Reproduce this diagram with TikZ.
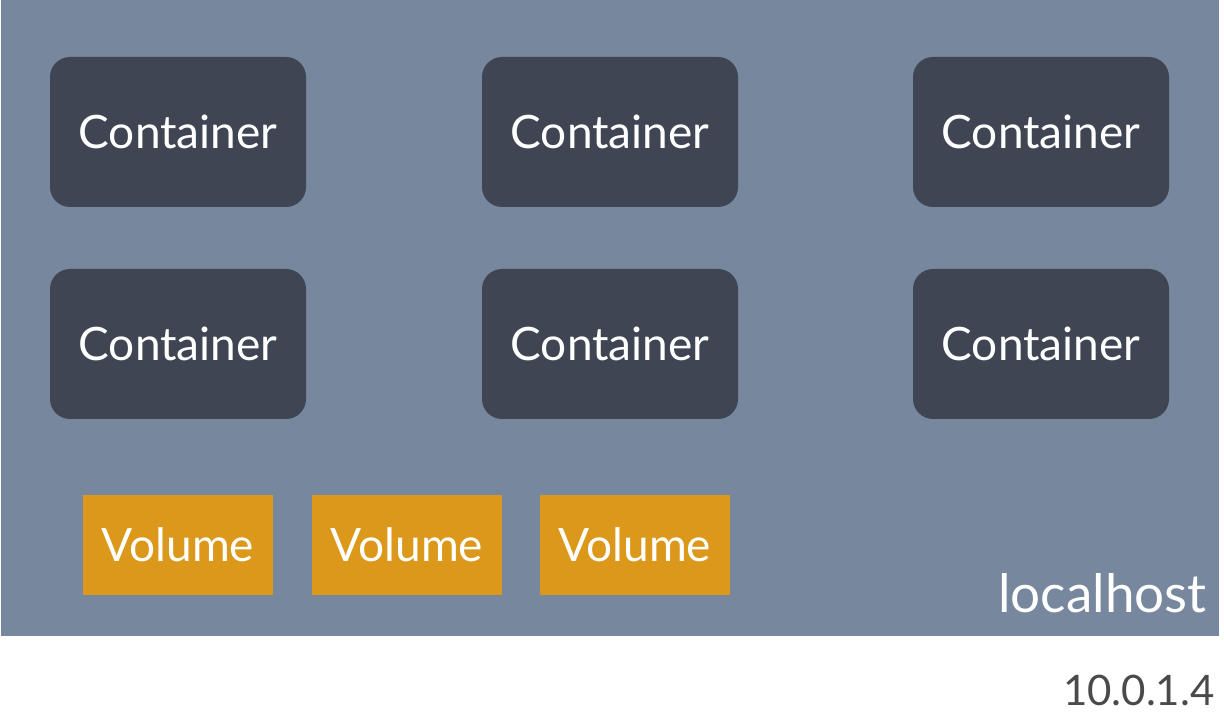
\documentclass[tikz,border=0pt]{standalone}
\usepackage{fontspec}
\setmainfont{Lato}
\usepackage{xcolor}
\usepackage{tikz}
\definecolor{hostbg}{HTML}{77879E}
\definecolor{boxdark}{HTML}{3F4553}
\definecolor{volorange}{HTML}{DB981B}
\definecolor{iptext}{HTML}{4A4A4A}
\tikzset{
    container/.style={fill=boxdark, rounded corners=10pt, minimum width=128pt, minimum height=75pt, text=white, font=\fontsize{23}{27}\selectfont},
    volume/.style={fill=volorange, minimum width=95pt, minimum height=50pt, text=white, font=\fontsize{23}{27}\selectfont}
}

\begin{document}
\begin{tikzpicture}[x=0.5pt, y=-0.5pt]
    \useasboundingbox (0,0) rectangle (1224,726);
    \fill[hostbg] (1,0) rectangle (1219,636);

    \node[container] (c11) at (178,132) {Container};
    \node[container] (c12) at (610,132) {Container};
    \node[container] (c13) at (1041,132) {Container};
    \node[container] (c21) at (178,344) {Container};
    \node[container] (c22) at (610,344) {Container};
    \node[container] (c23) at (1041,344) {Container};

    \node[volume] (v1) at (178,545) {Volume};
    \node[volume] (v2) at (407,545) {Volume};
    \node[volume] (v3) at (635,545) {Volume};

    \node[anchor=base east, text=white, font=\fontsize{26.5}{30}\selectfont, inner sep=0pt] (host) at (1207,612) {localhost};
    \node[anchor=base east, text=iptext, font=\fontsize{21}{25}\selectfont, inner sep=0pt] (ip) at (1215,705) {10.0.1.4};
\end{tikzpicture}
\end{document}
